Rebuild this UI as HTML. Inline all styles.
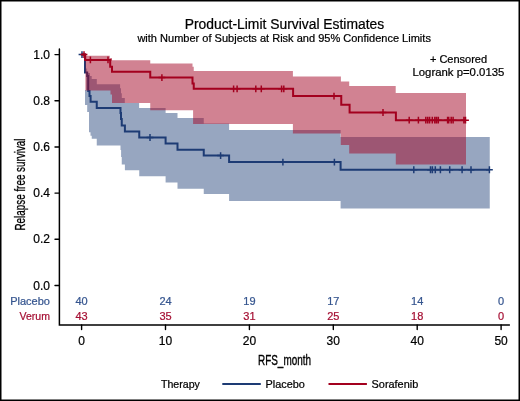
<!DOCTYPE html><html><head><meta charset="utf-8"><style>html,body{margin:0;padding:0;background:#fff;}svg{display:block;will-change:transform;}</style></head><body><svg width="520" height="401" viewBox="0 0 520 401" font-family='"Liberation Sans", sans-serif'>
<rect x="0" y="0" width="520" height="401" fill="#fff"/>
<text x="284.45" y="28.5" font-size="14" text-anchor="middle" fill="#000" stroke="#000" stroke-width="0.22" textLength="199.5" lengthAdjust="spacingAndGlyphs">Product-Limit Survival Estimates</text>
<text x="284.15" y="42" font-size="11" text-anchor="middle" fill="#000" stroke="#000" stroke-width="0.22" textLength="293.5" lengthAdjust="spacingAndGlyphs">with Number of Subjects at Risk and 95% Confidence Limits</text>
<polygon points="85,90 86.2,90 86.2,68.5 87.1,68.5 87.1,73 90,73 90,76 91.7,76 91.7,79 96.8,79 96.8,84.2 120.1,84.2 120.1,88.2 121,88.2 121,93.25 121.8,93.25 121.8,97.9 124.8,97.9 124.8,103 139.1,103 139.1,107.9 165.6,107.9 165.6,113.1 177.5,113.1 177.5,118.1 203.75,118.1 203.75,123.6 229.1,123.6 229.1,130 340.6,130 340.6,136.9 489.75,136.9 489.75,208.5 340.6,208.5 340.6,200.9 229.1,200.9 229.1,194 203.75,194 203.75,188.75 177.5,188.75 177.5,182.5 165.6,182.5 165.6,176.25 139.25,176.25 139.25,170.25 124.9,170.25 124.9,164.4 121.75,164.4 121.75,157 121.1,157 121.1,150 120.5,150 120.5,145.6 96.75,145.6 96.75,138.75 91.75,138.75 91.75,135.8 90.5,135.8 90.5,132.3 89,132.3 89,112 87.2,112 87.2,105 85,105" fill="#97A6C0"/>
<path d="M81.6,54.6 H85 V72.5 H87.2 V76 H88.2 V91 H89.5 V96 H90.6 V101.8 H96.75 V107.9 H120.5 V113 H121 V119 H121.75 V125.6 H124.9 V131.6 H139.25 V137.5 H165.6 V143.5 H177.5 V149.75 H203.75 V155.6 H229.1 V162.1 H340.6 V169.75 H489.4" fill="none" stroke="#1D3B74" stroke-width="2"/>
<path d="M78.6,54.6 H85.4 M82,51.2 V58.0 M146.6,137.5 H153.4 M150,134.1 V140.9 M217.2,155.6 H224.0 M220.6,152.2 V159.0 M279.5,162.1 H286.29999999999995 M282.9,158.7 V165.5 M331.0,162.1 H337.79999999999995 M334.4,158.7 V165.5 M410.40000000000003,169.75 H417.2 M413.8,166.35 V173.15 M427.1,169.75 H433.9 M430.5,166.35 V173.15 M429.0,169.75 H435.79999999999995 M432.4,166.35 V173.15 M431.90000000000003,169.75 H438.7 M435.3,166.35 V173.15 M437.0,169.75 H443.79999999999995 M440.4,166.35 V173.15 M446.3,169.75 H453.09999999999997 M449.7,166.35 V173.15 M458.70000000000005,169.75 H465.5 M462.1,166.35 V173.15 M467.6,169.75 H474.4 M471,166.35 V173.15 M486.0,169.75 H492.79999999999995 M489.4,166.35 V173.15" fill="none" stroke="#1D3B74" stroke-width="1.5"/>
<polygon points="85.4,55.8 109.8,55.8 109.8,58 112,58 112,60.25 150.25,60.25 150.25,63.6 192.5,63.6 192.5,66.75 193.75,66.75 193.75,70.9 292.9,70.9 292.9,76.5 340.9,76.5 340.9,81.4 349.2,81.4 349.2,86.1 395.7,86.1 395.7,93 466,93 466,164.4 395.8,164.4 395.8,153.6 349.2,153.6 349.2,145 340.8,145 340.8,133.6 292.9,133.6 292.9,123.9 193.1,123.9 193.1,110.3 150.25,110.3 150.25,103 112,103 112,94.5 110.5,94.5 110.5,90.5 85.4,90.5" fill="#A30625" fill-opacity="0.5"/>
<path d="M81.6,54.6 H85.2 V59.9 H110.2 V66.75 H112 V71.75 H150.25 V77.6 H192.5 V83.6 H193.75 V88.8 H293.1 V96.1 H341.25 V104.75 H349.6 V112.5 H395.9 V120.2 H465.5" fill="none" stroke="#A3001E" stroke-width="2"/>
<path d="M80.6,54.6 H87.4 M84,51.2 V58.0 M87.0,59.9 H93.80000000000001 M90.4,56.5 V63.3 M104.6,59.9 H111.4 M108,56.5 V63.3 M158.5,77.6 H165.3 M161.9,74.19999999999999 V81.0 M230.2,88.8 H237.0 M233.6,85.39999999999999 V92.2 M233.7,88.8 H240.5 M237.1,85.39999999999999 V92.2 M252.4,88.8 H259.2 M255.8,85.39999999999999 V92.2 M257.90000000000003,88.8 H264.7 M261.3,85.39999999999999 V92.2 M278.20000000000005,88.8 H285.0 M281.6,85.39999999999999 V92.2 M280.40000000000003,88.8 H287.2 M283.8,85.39999999999999 V92.2 M330.6,96.1 H337.4 M334,92.69999999999999 V99.5 M379.6,112.5 H386.4 M383,109.1 V115.9 M405.8,120.2 H412.59999999999997 M409.2,116.8 V123.60000000000001 M415.0,120.2 H421.79999999999995 M418.4,116.8 V123.60000000000001 M422.40000000000003,120.2 H429.2 M425.8,116.8 V123.60000000000001 M424.3,120.2 H431.09999999999997 M427.7,116.8 V123.60000000000001 M426.20000000000005,120.2 H433.0 M429.6,116.8 V123.60000000000001 M428.90000000000003,120.2 H435.7 M432.3,116.8 V123.60000000000001 M431.40000000000003,120.2 H438.2 M434.8,116.8 V123.60000000000001 M433.1,120.2 H439.9 M436.5,116.8 V123.60000000000001 M434.90000000000003,120.2 H441.7 M438.3,116.8 V123.60000000000001 M444.20000000000005,120.2 H451.0 M447.6,116.8 V123.60000000000001 M445.3,120.2 H452.09999999999997 M448.7,116.8 V123.60000000000001 M447.8,120.2 H454.59999999999997 M451.2,116.8 V123.60000000000001 M449.70000000000005,120.2 H456.5 M453.1,116.8 V123.60000000000001 M460.5,120.2 H467.29999999999995 M463.9,116.8 V123.60000000000001 M462.1,120.2 H468.9 M465.5,116.8 V123.60000000000001" fill="none" stroke="#A3001E" stroke-width="1.5"/>
<path d="M59.4,49 V325 H509.4" fill="none" stroke="#000" stroke-width="1.5" stroke-linecap="round" stroke-linejoin="miter"/>
<path d="M55,54.60 H59.4 M55,100.77 H59.4 M55,146.94 H59.4 M55,193.11 H59.4 M55,239.28 H59.4 M55,285.45 H59.4" stroke="#000" stroke-width="1.4" stroke-linecap="round"/>
<path d="M81.60,325 V329.6 M165.50,325 V329.6 M249.40,325 V329.6 M333.30,325 V329.6 M417.20,325 V329.6 M501.10,325 V329.6" stroke="#000" stroke-width="1.4" stroke-linecap="round"/>
<text x="50" y="58.70" font-size="12" text-anchor="end" fill="#000" stroke="#000" stroke-width="0.22">1.0</text>
<text x="50" y="104.87" font-size="12" text-anchor="end" fill="#000" stroke="#000" stroke-width="0.22">0.8</text>
<text x="50" y="151.04" font-size="12" text-anchor="end" fill="#000" stroke="#000" stroke-width="0.22">0.6</text>
<text x="50" y="197.21" font-size="12" text-anchor="end" fill="#000" stroke="#000" stroke-width="0.22">0.4</text>
<text x="50" y="243.38" font-size="12" text-anchor="end" fill="#000" stroke="#000" stroke-width="0.22">0.2</text>
<text x="50" y="289.55" font-size="12" text-anchor="end" fill="#000" stroke="#000" stroke-width="0.22">0.0</text>
<text x="81.60" y="344.8" font-size="12" text-anchor="middle" fill="#000" stroke="#000" stroke-width="0.22">0</text>
<text x="165.50" y="344.8" font-size="12" text-anchor="middle" fill="#000" stroke="#000" stroke-width="0.22">10</text>
<text x="249.40" y="344.8" font-size="12" text-anchor="middle" fill="#000" stroke="#000" stroke-width="0.22">20</text>
<text x="333.30" y="344.8" font-size="12" text-anchor="middle" fill="#000" stroke="#000" stroke-width="0.22">30</text>
<text x="417.20" y="344.8" font-size="12" text-anchor="middle" fill="#000" stroke="#000" stroke-width="0.22">40</text>
<text x="501.10" y="344.8" font-size="12" text-anchor="middle" fill="#000" stroke="#000" stroke-width="0.22">50</text>
<text x="49.9" y="305" font-size="11" text-anchor="end" fill="#35558F" stroke="#35558F" stroke-width="0.22">Placebo</text>
<text x="49.9" y="319.8" font-size="11" text-anchor="end" fill="#A50F33" stroke="#A50F33" stroke-width="0.22" textLength="30.4" lengthAdjust="spacingAndGlyphs">Verum</text>
<text x="81.60" y="305" font-size="11" text-anchor="middle" fill="#35558F" stroke="#35558F" stroke-width="0.22">40</text>
<text x="81.60" y="319.8" font-size="11" text-anchor="middle" fill="#A50F33" stroke="#A50F33" stroke-width="0.22">43</text>
<text x="165.50" y="305" font-size="11" text-anchor="middle" fill="#35558F" stroke="#35558F" stroke-width="0.22">24</text>
<text x="165.50" y="319.8" font-size="11" text-anchor="middle" fill="#A50F33" stroke="#A50F33" stroke-width="0.22">35</text>
<text x="249.40" y="305" font-size="11" text-anchor="middle" fill="#35558F" stroke="#35558F" stroke-width="0.22">19</text>
<text x="249.40" y="319.8" font-size="11" text-anchor="middle" fill="#A50F33" stroke="#A50F33" stroke-width="0.22">31</text>
<text x="333.30" y="305" font-size="11" text-anchor="middle" fill="#35558F" stroke="#35558F" stroke-width="0.22">17</text>
<text x="333.30" y="319.8" font-size="11" text-anchor="middle" fill="#A50F33" stroke="#A50F33" stroke-width="0.22">25</text>
<text x="417.20" y="305" font-size="11" text-anchor="middle" fill="#35558F" stroke="#35558F" stroke-width="0.22">14</text>
<text x="417.20" y="319.8" font-size="11" text-anchor="middle" fill="#A50F33" stroke="#A50F33" stroke-width="0.22">18</text>
<text x="501.10" y="305" font-size="11" text-anchor="middle" fill="#35558F" stroke="#35558F" stroke-width="0.22">0</text>
<text x="501.10" y="319.8" font-size="11" text-anchor="middle" fill="#A50F33" stroke="#A50F33" stroke-width="0.22">0</text>
<text x="284.5" y="364.6" font-size="14.6" text-anchor="middle" fill="#000" stroke="#000" stroke-width="0.35" textLength="53" lengthAdjust="spacingAndGlyphs">RFS_month</text>
<text transform="translate(25,184.5) rotate(-90)" x="0" y="0" font-size="14.3" text-anchor="middle" fill="#000" stroke="#000" stroke-width="0.3" textLength="92" lengthAdjust="spacingAndGlyphs">Relapse free survival</text>
<text x="458.5" y="63.1" font-size="11" text-anchor="middle" fill="#000" stroke="#000" stroke-width="0.22">+ Censored</text>
<text x="458.4" y="76.3" font-size="11" text-anchor="middle" fill="#000" stroke="#000" stroke-width="0.22" textLength="91.9" lengthAdjust="spacingAndGlyphs">Logrank p=0.0135</text>
<text x="161" y="387.5" font-size="10.6" fill="#000" stroke="#000" stroke-width="0.22">Therapy</text>
<path d="M222.3,384 H260.8" stroke="#1D3B74" stroke-width="2"/>
<text x="265.5" y="387.5" font-size="10.9" fill="#000" stroke="#000" stroke-width="0.22">Placebo</text>
<path d="M328.5,384 H366.9" stroke="#A3001E" stroke-width="2"/>
<text x="371.6" y="387.5" font-size="10.9" fill="#000" stroke="#000" stroke-width="0.22">Sorafenib</text>
<rect x="0.75" y="0.75" width="518.5" height="399.5" fill="none" stroke="#000" stroke-width="1.5"/>
</svg></body></html>
